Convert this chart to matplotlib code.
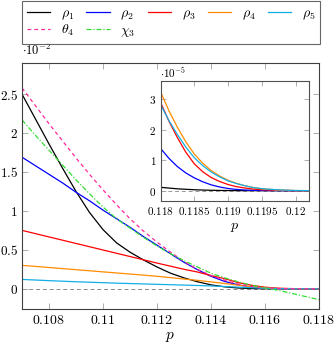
import matplotlib
matplotlib.use("Agg")
import matplotlib.pyplot as plt
import numpy as np

plt.rcParams['mathtext.fontset'] = 'cm'
plt.rcParams['font.family'] = ['DejaVu Serif']

# main plot: p and series values (units of 1e-2)
p_main = [0.107, 0.1075, 0.108, 0.1085, 0.109, 0.1095, 0.110, 0.1105, 0.111, 0.1115,
          0.112, 0.1125, 0.113, 0.1135, 0.114, 0.1145, 0.115, 0.1155, 0.116, 0.1165,
          0.117, 0.1175, 0.118]
rho1 = [2.50, 2.18, 1.86, 1.55, 1.25, 0.98, 0.76, 0.59, 0.47, 0.37,
        0.28, 0.20, 0.14, 0.09, 0.05, 0.025, 0.01, 0.003, 0.0, 0.0,
        0.0, 0.0, 0.0]
rho2 = [1.69, 1.58, 1.47, 1.36, 1.24, 1.13, 1.01, 0.90, 0.79, 0.67,
        0.56, 0.45, 0.34, 0.245, 0.16, 0.095, 0.05, 0.022, 0.008, 0.002,
        0.0, 0.0, 0.0]
rho3 = [0.75, 0.708, 0.666, 0.624, 0.582, 0.54, 0.498, 0.456, 0.414, 0.372,
        0.33, 0.29, 0.25, 0.215, 0.17, 0.13, 0.08, 0.045, 0.02, 0.007,
        0.002, 0.0, 0.0]
rho4 = [0.30, 0.287, 0.273, 0.259, 0.245, 0.231, 0.217, 0.203, 0.189, 0.175,
        0.160, 0.143, 0.125, 0.108, 0.088, 0.068, 0.046, 0.025, 0.010, 0.003,
        0.001, 0.0, 0.0]
rho5 = [0.12, 0.112, 0.104, 0.097, 0.090, 0.084, 0.078, 0.072, 0.067, 0.062,
        0.057, 0.052, 0.047, 0.042, 0.036, 0.029, 0.021, 0.013, 0.006, 0.002,
        0.0, 0.0, 0.0]
theta4 = [2.58, 2.35, 2.12, 1.90, 1.68, 1.47, 1.27, 1.08, 0.90, 0.74,
          0.60, 0.47, 0.35, 0.25, 0.17, 0.11, 0.06, 0.03, 0.012, 0.003,
          0.0, 0.0, 0.0]
chi3 = [2.17, 1.97, 1.78, 1.59, 1.40, 1.22, 1.05, 0.90, 0.78, 0.66,
        0.55, 0.45, 0.36, 0.28, 0.20, 0.14, 0.09, 0.045, 0.01, -0.02,
        -0.06, -0.10, -0.14]

# inset: p and values (units of 1e-5)
p_ins = [0.118, 0.118125, 0.11825, 0.118375, 0.1185, 0.118625, 0.11875, 0.118875,
         0.119, 0.119125, 0.11925, 0.119375, 0.1195, 0.11975, 0.120, 0.1202]
ins_rho1 = [0.11, 0.085, 0.06, 0.045, 0.03, 0.02, 0.012, 0.007,
            0.004, 0.002, 0.0, 0.0, 0.0, 0.0, 0.0, 0.0]
ins_rho2 = [1.39, 1.06, 0.79, 0.58, 0.42, 0.29, 0.19, 0.12,
            0.07, 0.04, 0.02, 0.01, 0.005, 0.0, 0.0, 0.0]
ins_rho3 = [2.90, 2.28, 1.74, 1.26, 0.88, 0.62, 0.43, 0.30,
            0.20, 0.13, 0.085, 0.05, 0.028, 0.008, 0.0, 0.0]
ins_rho4 = [3.25, 2.62, 2.08, 1.60, 1.20, 0.90, 0.66, 0.48,
            0.34, 0.24, 0.16, 0.10, 0.06, 0.02, 0.004, 0.0]
ins_rho5 = [2.83, 2.30, 1.84, 1.43, 1.08, 0.82, 0.61, 0.45,
            0.32, 0.23, 0.16, 0.10, 0.065, 0.025, 0.005, 0.0]

main_xticks = [0.108, 0.110, 0.112, 0.114, 0.116, 0.118]
main_xticklabels = ['0.108', '0.11', '0.112', '0.114', '0.116', '0.118']
main_yticks = [0, 0.5, 1, 1.5, 2, 2.5]
main_yticklabels = ['0', '0.5', '1', '1.5', '2', '2.5']
ins_xticks = [0.118, 0.1185, 0.119, 0.1195, 0.120]
ins_xticklabels = ['0.118', '0.1185', '0.119', '0.1195', '0.12']
ins_yticks = [0, 1, 2, 3]
ins_yticklabels = ['0', '1', '2', '3']

C_BLACK = 'black'
C_BLUE = '#0000ff'
C_RED = '#ff0000'
C_ORANGE = '#ff8c00'
C_CYAN = '#12aee6'
C_PINK = '#ff2a9a'
C_GREEN = '#33dd33'

W, H = 335, 346
fig = plt.figure(figsize=(W / 100, H / 100), dpi=100)

def fx(px):
    return px / W

def fy(py):
    return 1 - py / H

ax = fig.add_axes([fx(22), fy(309), fx(319) - fx(22), fy(63) - fy(309)])
lw = 0.9
ax.axhline(0, color='#888888', lw=0.7, ls=(0, (4, 3)), zorder=1)
l1, = ax.plot(p_main, rho1, color=C_BLACK, lw=lw, label=r'$\rho_1$')
l2, = ax.plot(p_main, rho2, color=C_BLUE, lw=lw, label=r'$\rho_2$')
l3, = ax.plot(p_main, rho3, color=C_RED, lw=lw, label=r'$\rho_3$')
l4, = ax.plot(p_main, rho4, color=C_ORANGE, lw=lw, label=r'$\rho_4$')
l5, = ax.plot(p_main, rho5, color=C_CYAN, lw=lw, label=r'$\rho_5$')
l6, = ax.plot(p_main, theta4, color=C_PINK, lw=lw, ls=(0, (3, 2.5)), label=r'$\theta_4$')
l7, = ax.plot(p_main, chi3, color=C_GREEN, lw=lw, ls=(0, (4, 1.5, 1, 1.5)), label=r'$\chi_3$')

ax.set_xlim(0.107, 0.118)
ax.set_ylim(-0.26, 2.9)
ax.set_xticks(main_xticks)
ax.set_xticklabels(['$' + t + '$' for t in main_xticklabels], fontsize=10)
ax.set_yticks(main_yticks)
ax.set_yticklabels(['$' + t + '$' for t in main_yticklabels], fontsize=9.5)
ax.tick_params(direction='in', length=4, width=0.6, color='#a0a0a0',
               top=True, right=True, pad=3)
for s in ax.spines.values():
    s.set_color('#404040')
    s.set_linewidth(0.8)
ax.set_xlabel('$p$', fontsize=11, labelpad=2)
fig.text(fx(22), fy(50), r'$\cdot 10^{-2}$', fontsize=9, ha='left', va='center')

# inset
axi = fig.add_axes([fx(160.5), fy(200.7), fx(309.3) - fx(160.5), fy(80.7) - fy(200.7)])
axi.set_facecolor('white')
axi.axhline(0, color='#999999', lw=0.7, ls=(0, (4, 3)), zorder=1)
axi.plot(p_ins, ins_rho1, color=C_BLACK, lw=lw)
axi.plot(p_ins, ins_rho2, color=C_BLUE, lw=lw)
axi.plot(p_ins, ins_rho3, color=C_RED, lw=lw)
axi.plot(p_ins, ins_rho4, color=C_ORANGE, lw=lw)
axi.plot(p_ins, ins_rho5, color=C_CYAN, lw=lw)
axi.set_xlim(0.118, 0.1202)
axi.set_ylim(-0.33, 3.61)
axi.set_xticks(ins_xticks)
axi.set_xticklabels(['$' + t + '$' for t in ins_xticklabels], fontsize=8)
axi.set_yticks(ins_yticks)
axi.set_yticklabels(['$' + t + '$' for t in ins_yticklabels], fontsize=8)
axi.tick_params(direction='in', length=3.5, width=0.6, color='#a0a0a0',
                top=True, right=True, pad=3)
for s in axi.spines.values():
    s.set_color('#505050')
    s.set_linewidth(0.8)
axi.set_xlabel('$p$', fontsize=10, labelpad=2)
fig.text(fx(160), fy(73), r'$\cdot 10^{-5}$', fontsize=8, ha='left', va='center')

# legend: order so that row 1 = rho1..rho5, row 2 = theta4, chi3
LEG_X0, LEG_X1, LEG_TOP = 22, 320, 1
handles = [l1, l6, l2, l7, l3, l4, l5]

def make_legend(cs, anchor):
    lg = fig.legend(handles=handles, ncol=5,
                    loc='upper left', bbox_to_anchor=anchor,
                    fontsize=10, frameon=True, fancybox=False,
                    handlelength=1.7, handletextpad=0.75, columnspacing=cs,
                    borderpad=0.35, labelspacing=0.1, borderaxespad=0)
    lg.get_frame().set_edgecolor('#404040')
    lg.get_frame().set_linewidth(0.8)
    return lg

cs = 0.75
leg = make_legend(cs, (fx(LEG_X0), fy(LEG_TOP)))
fig.canvas.draw()
bb = leg.get_window_extent()
em = 10 * 100 / 72
cs = max(0.2, cs + ((LEG_X1 - LEG_X0) - bb.width) / 4 / em)
leg.remove()
leg = make_legend(cs, (fx(LEG_X0), fy(LEG_TOP)))
fig.canvas.draw()
bb = leg.get_window_extent()
dx = LEG_X0 - bb.x0
dy = (H - LEG_TOP) - bb.y1
leg.remove()
leg = make_legend(cs, (fx(LEG_X0 + dx), fy(LEG_TOP) + dy / H))

fig.savefig('out.png', dpi=100)
